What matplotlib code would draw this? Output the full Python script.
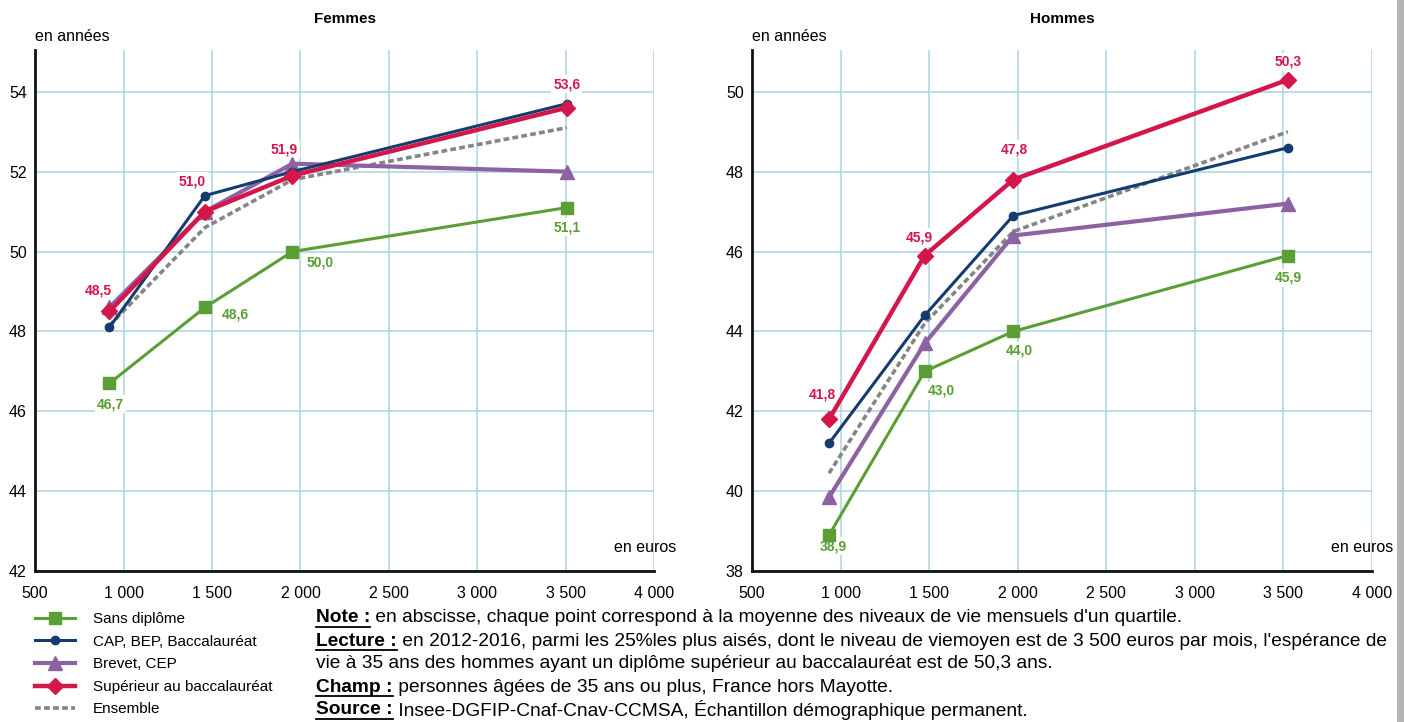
import matplotlib
matplotlib.use('Agg')
import matplotlib.pyplot as plt
from matplotlib.lines import Line2D
from matplotlib.patches import Rectangle

plt.rcParams['font.family'] = ['Liberation Sans', 'DejaVu Sans']

# niveaux de vie moyens des quartiles (euros / mois)
quartiles_f = [920, 1460, 1955, 3505]
quartiles_h = [935, 1475, 1975, 3525]

# espérance de vie à 35 ans, Femmes
femmes_sans = [46.7, 48.6, 50.0, 51.1]
femmes_cap = [48.1, 51.4, 52.0, 53.7]
femmes_brevet = [48.6, 51.0, 52.2, 52.0]
femmes_sup = [48.5, 51.0, 51.9, 53.6]
femmes_ens = [48.15, 50.6, 51.8, 53.1]

# Hommes
hommes_sans = [38.9, 43.0, 44.0, 45.9]
hommes_cap = [41.2, 44.4, 46.9, 48.6]
hommes_brevet = [39.85, 43.7, 46.4, 47.2]
hommes_sup = [41.8, 45.9, 47.8, 50.3]
hommes_ens = [40.45, 44.2, 46.5, 49.0]

series_labels = ['Sans diplôme', 'CAP, BEP, Baccalauréat', 'Brevet, CEP',
                 'Supérieur au baccalauréat', 'Ensemble']

xticks = [500, 1000, 1500, 2000, 2500, 3000, 3500, 4000]
xtick_labels = ['500', '1 000', '1 500', '2 000', '2 500', '3 000', '3 500', '4 000']

GREEN = '#5b9e35'
BLUE = '#143c70'
PURPLE = '#8c62a2'
RED = '#d3174b'
GREY = '#858585'
GRID = '#a9d3e6'


def fmt(v):
    return f'{v:.1f}'.replace('.', ',')


def draw_panel(ax, x, sans, cap, brevet, sup, ens, ylim, title, red_off, green_off):
    lines = []
    lines.append(ax.plot(x, sans, color=GREEN, lw=2.2, marker='s', ms=8, zorder=4, clip_on=False)[0])
    lines.append(ax.plot(x, cap, color=BLUE, lw=2.2, marker='o', ms=6, zorder=5, clip_on=False)[0])
    lines.append(ax.plot(x, brevet, color=PURPLE, lw=3, marker='^', ms=10, zorder=4, clip_on=False)[0])
    lines.append(ax.plot(x, sup, color=RED, lw=3.2, marker='D', ms=8, zorder=6, clip_on=False)[0])
    lines.append(ax.plot(x, ens, color=GREY, lw=2.6, ls=(0, (1.6, 0.9)), zorder=3)[0])

    # étiquettes sous les courbes, au-dessus de la grille
    for xi, yi, off in zip(x, sup, red_off):
        ax.annotate(fmt(yi), (xi, yi), xytext=off, textcoords='offset points',
                    ha='center', va='center', color=RED, fontsize=10, fontweight='bold',
                    bbox=dict(boxstyle='square,pad=0.15', fc='white', ec='none'), zorder=2.5)
    for xi, yi, off in zip(x, sans, green_off):
        ax.annotate(fmt(yi), (xi, yi), xytext=off, textcoords='offset points',
                    ha='center', va='center', color=GREEN, fontsize=10, fontweight='bold',
                    bbox=dict(boxstyle='square,pad=0.15', fc='white', ec='none'), zorder=2.5)

    ax.set_xlim(500, 4000)
    ax.set_ylim(*ylim)
    ax.set_xticks(xticks)
    ax.set_xticklabels(xtick_labels)
    ax.set_yticks(range(ylim[0], int(ylim[1]) + 1, 2))
    ax.tick_params(length=0, labelsize=11.5, pad=11)
    ax.tick_params(axis='y', pad=6)
    ax.grid(True, color=GRID, lw=1.1)
    ax.set_axisbelow(True)
    for s in ('top', 'right'):
        ax.spines[s].set_visible(False)
    for s in ('left', 'bottom'):
        ax.spines[s].set_linewidth(2)
        ax.spines[s].set_color('#111111')
    ax.set_title(title, fontsize=11, fontweight='bold', pad=19)
    ax.text(0, 1.012, 'en années', transform=ax.transAxes, fontsize=11.5, ha='left', va='bottom')
    ax.text(1.035, 0.03, 'en euros', transform=ax.transAxes, fontsize=11.5, ha='right', va='bottom')
    return lines


fig = plt.figure(figsize=(14.04, 7.22), dpi=100)
ax1 = fig.add_axes([0.025, 0.209, 0.441, 0.722])
ax2 = fig.add_axes([0.5356, 0.209, 0.4416, 0.722])

handles = draw_panel(ax1, quartiles_f, femmes_sans, femmes_cap, femmes_brevet, femmes_sup,
                     femmes_ens, (42, 55.05), 'Femmes',
                     [(-8, 15), (-9, 22), (-6, 19), (0, 17)],
                     [(1, -15), (22, -5), (20, -8), (0, -14)])
draw_panel(ax2, quartiles_h, hommes_sans, hommes_cap, hommes_brevet, hommes_sup,
           hommes_ens, (38, 51.05), 'Hommes',
           [(-5, 18), (-4, 13), (1, 22), (0, 13)],
           [(3, -8), (12, -14), (4, -14), (0, -16)])

fig.legend(handles, series_labels, loc='upper left', bbox_to_anchor=(0.025, 0.152),
           frameon=False, fontsize=11, handlelength=2.6, handletextpad=1.2,
           labelspacing=0.56, borderpad=0, borderaxespad=0)

# notes
notes = [
    ('Note :', ' en abscisse, chaque point correspond à la moyenne des niveaux de vie mensuels d\'un quartile.'),
    ('Lecture :', ' en 2012-2016, parmi les 25%les plus aisés, dont le niveau de viemoyen est de 3 500 euros par mois, l\'espérance de'),
    ('', 'vie à 35 ans des hommes ayant un diplôme supérieur au baccalauréat est de 50,3 ans.'),
    ('Champ :', ' personnes âgées de 35 ans ou plus, France hors Mayotte.'),
    ('Source :', ' Insee-DGFIP-Cnaf-Cnav-CCMSA, Échantillon démographique permanent.'),
]
fig.canvas.draw()
renderer = fig.canvas.get_renderer()
x0 = 316 / 1404
for i, (head, body) in enumerate(notes):
    y = 1 - (618 + i * 23) / 722
    xb = x0
    if head:
        t = fig.text(x0, y, head, fontsize=13.75, fontweight='bold', va='center', ha='left')
        bb = t.get_window_extent(renderer).transformed(fig.transFigure.inverted())
        fig.add_artist(Line2D([bb.x0, bb.x1], [bb.y0 - 0.001, bb.y0 - 0.001],
                              color='black', lw=1.3, transform=fig.transFigure))
        xb = bb.x1
    fig.text(xb, y, body, fontsize=13.75, va='center', ha='left')

fig.add_artist(Rectangle((1397 / 1404, 0), 7 / 1404, 1, transform=fig.transFigure,
                         color='#b5b5b5', lw=0))

fig.savefig('out.png', dpi=100)
